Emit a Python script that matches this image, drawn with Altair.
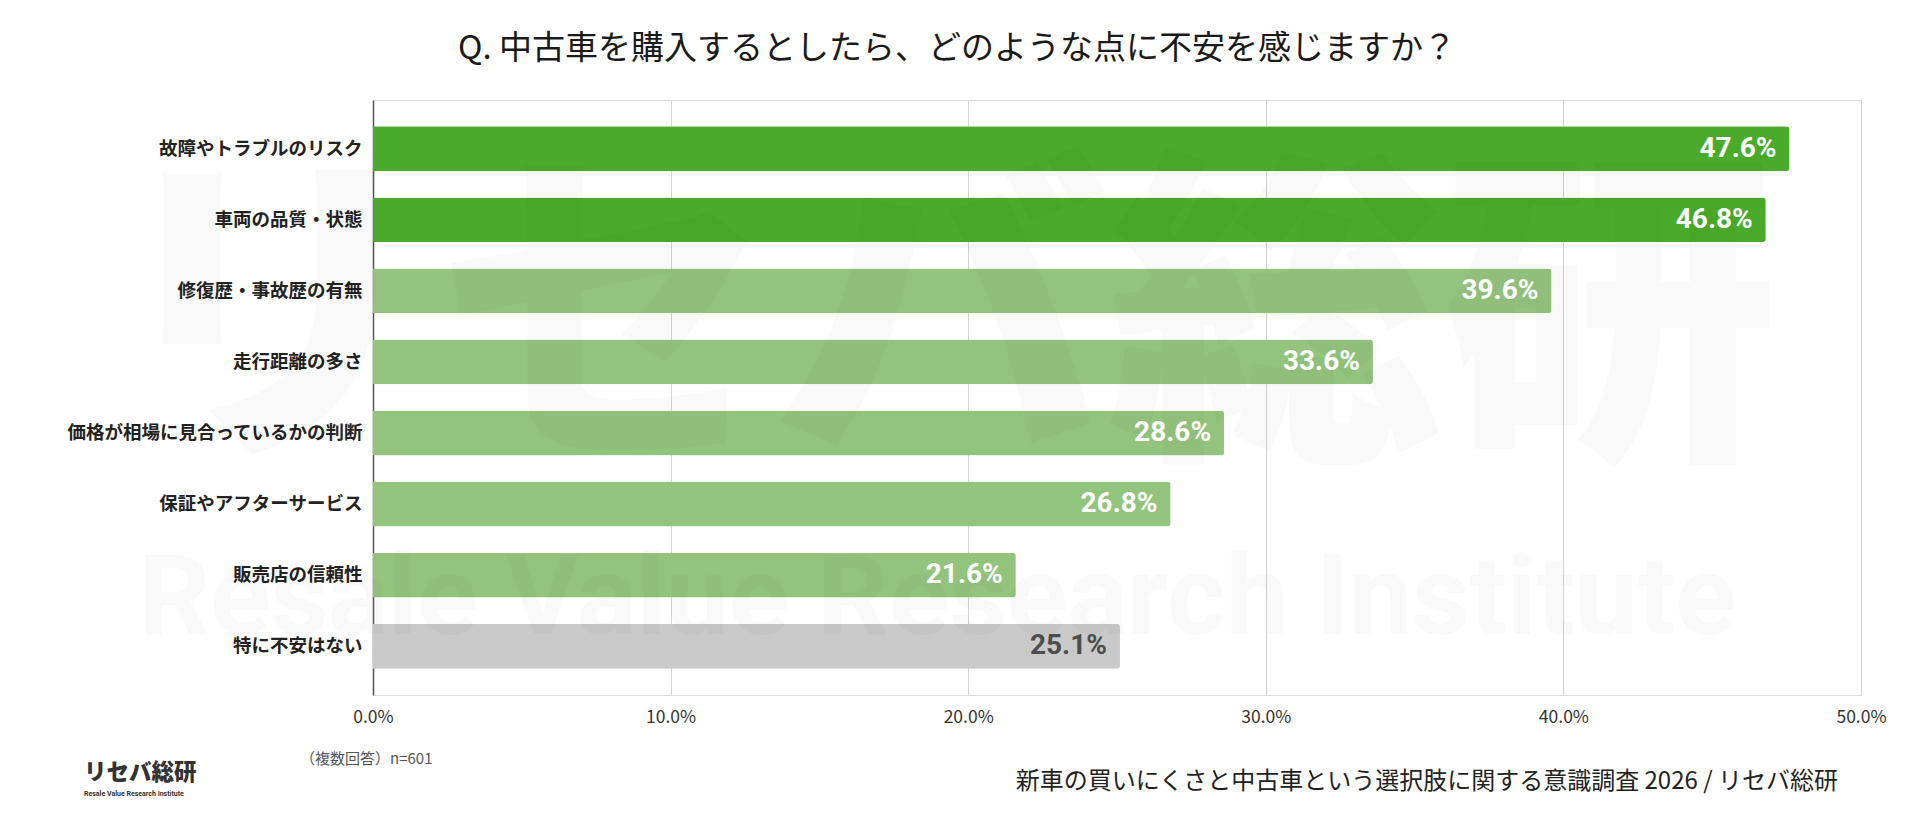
import altair as alt
import pandas as pd

# ---- data ----
categories = [
    "故障やトラブルのリスク",
    "車両の品質・状態",
    "修復歴・事故歴の有無",
    "走行距離の多さ",
    "価格が相場に見合っているかの判断",
    "保証やアフターサービス",
    "販売店の信頼性",
    "特に不安はない",
]
values = [47.6, 46.8, 39.6, 33.6, 28.6, 26.8, 21.6, 25.1]
groups = ["top", "top", "mid", "mid", "mid", "mid", "mid", "none"]
x_ticks = [0, 10, 20, 30, 40, 50]

title_text = "Q. 中古車を購入するとしたら、どのような点に不安を感じますか？"
note_text = "（複数回答）n=601"
source_text = "新車の買いにくさと中古車という選択肢に関する意識調査 2026 / リセバ総研"
logo_text = "リセバ総研"
logo_sub = "Resale Value Research Institute"

df = pd.DataFrame({
    "category": categories,
    "value": values,
    "group": groups,
    "label": [f"{v:.1f}%" for v in values],
})

W, H = 1488, 595
JP = "Noto Sans CJK JP"

color_scale = alt.Scale(domain=["top", "mid", "none"],
                        range=["#4aaa2b", "#93c47d", "#c9c9c9"])

y_enc = alt.Y(
    "category:N", sort=categories,
    scale=alt.Scale(paddingInner=0.371, paddingOuter=0.37),
    axis=alt.Axis(title=None, labelFont=JP, labelFontSize=18.5,
                  labelFontWeight="bold", labelColor="#222222",
                  labelPadding=11, ticks=False, domain=True,
                  domainColor="#555555", domainWidth=1.5, labelLimit=400),
)
x_enc = alt.X(
    "value:Q", scale=alt.Scale(domain=[0, 50], nice=False),
    axis=alt.Axis(title=None, values=x_ticks,
                  labelExpr="format(datum.value, '.1f') + '%'",
                  grid=True, gridColor="#d3d3d3", gridWidth=1,
                  domain=False, ticks=False, labelPadding=13,
                  labelFlush=False,
                  labelFont=JP, labelFontSize=17.5, labelColor="#333333"),
)

base = alt.Chart(df)

bars = base.mark_bar(cornerRadiusTopRight=3, cornerRadiusBottomRight=3).encode(
    y=y_enc, x=x_enc,
    color=alt.Color("group:N", scale=color_scale, legend=None),
)

labels = base.mark_text(align="right", baseline="middle", dx=-13,
                        font="Roboto", fontSize=28, fontWeight="bold").encode(
    y=alt.Y("category:N", sort=categories),
    x=alt.X("value:Q"),
    text="label:N",
    color=alt.condition(alt.datum.group == "none",
                        alt.value("#4d4d4d"), alt.value("#ffffff")),
)


def annot(text, x, y, **kw):
    return alt.Chart(pd.DataFrame({"t": [text]})).mark_text(**kw).encode(
        text="t:N", x=alt.value(x), y=alt.value(y))


wm1 = annot(logo_text, 567, 232, font=JP, fontSize=335, fontWeight=900,
            color="#000000", opacity=0.02, align="center", baseline="middle")
wm2 = annot(logo_sub, 564, 500, font="Liberation Sans Narrow, Roboto",
            fontSize=112, fontWeight="bold", color="#000000", opacity=0.02,
            align="center", baseline="middle")

title = annot(title_text, 584, -51, font=JP, fontSize=33, fontWeight="normal",
              color="#1a1a1a", align="center", baseline="middle")
note = annot(note_text, -73, 659, font=JP, fontSize=15, color="#555555",
             align="left", baseline="middle")
logo = annot(logo_text, -289, 673, font=JP, fontSize=22.5, fontWeight=900,
             color="#333333", align="left", baseline="middle")
logo2 = annot(logo_sub, -289, 694, font="Roboto", fontSize=7,
              fontWeight="bold", color="#333333", align="left",
              baseline="middle")
source = annot(source_text, 1465, 682, font=JP, fontSize=24,
               color="#222222", align="right", baseline="middle")

chart = alt.layer(bars, wm1, wm2, labels, title, note, logo, logo2, source).properties(
    width=W, height=H,
    autosize=alt.AutoSizeParams(type="none"),
    padding={"left": 365, "top": 92, "right": 40, "bottom": 105},
).configure_view(stroke=None).configure(background="#ffffff")

chart.save("out.html", embed_options={"renderer": "svg", "actions": False})
